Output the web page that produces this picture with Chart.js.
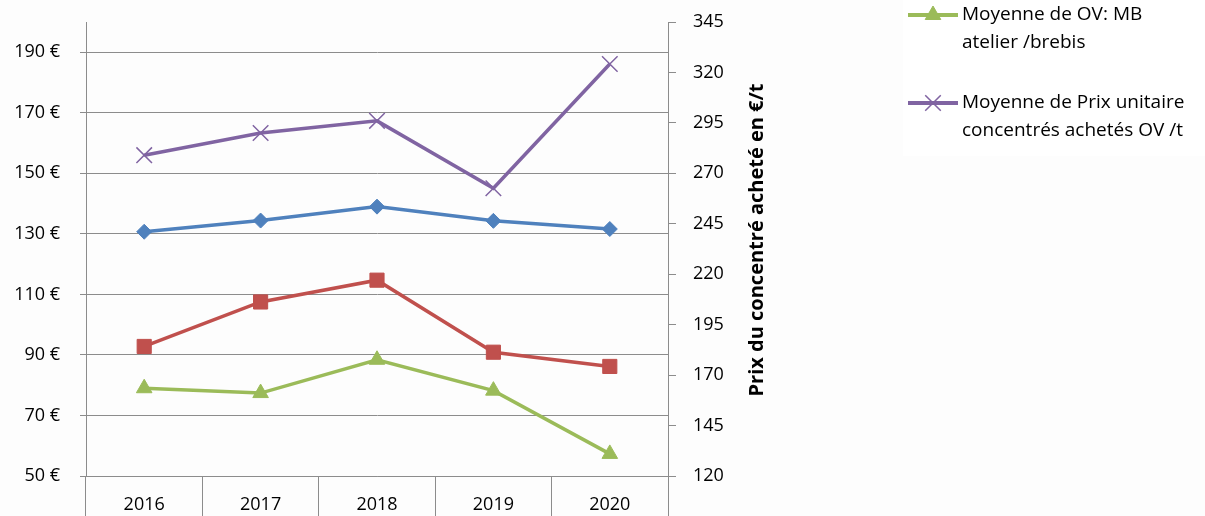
<!DOCTYPE html>
<html>
<head>
<meta charset="utf-8">
<script src="https://cdn.jsdelivr.net/npm/chart.js@4.4.0/dist/chart.umd.min.js"></script>
<style>
  html, body { margin: 0; padding: 0; background: #fdfdfd; }
  #wrap { position: relative; width: 1205px; height: 516px; }
</style>
</head>
<body>
<div id="wrap"><canvas id="myChart" width="1205" height="516"></canvas></div>
<script>
  const annees = ['2016', '2017', '2018', '2019', '2020'];
  const serieBleue = [130.7, 134.4, 139.0, 134.3, 131.6];
  const serieRouge = [92.8, 107.5, 114.7, 90.9, 86.2];
  const mbBrebis = [79.0, 77.4, 88.4, 78.2, 57.3];
  const prixConcentres = [279, 290, 296, 262.6, 324.2];
  const ticksGauche = [50, 70, 90, 110, 130, 150, 170, 190];
  const ticksDroite = [120, 145, 170, 195, 220, 245, 270, 295, 320, 345];
  const legendeLignes = [
    ['Moyenne de OV: MB', 'atelier /brebis'],
    ['Moyenne de Prix unitaire', 'concentrés achetés OV /t']
  ];
  const titreDroite = 'Prix du concentré acheté en €/t';

  const gris = '#8c8c8c';
  const police = '"Open Sans", Lato, sans-serif';

  // titre de l'axe de droite (lu de bas en haut) + légende à droite
  const decor = {
    id: 'decor',
    beforeDraw(chart) {
      const c = chart.ctx;
      c.save();
      c.fillStyle = '#ffffff';
      c.fillRect(903, 0, 302, 156);
      c.restore();
    },
    afterDraw(chart) {
      const c = chart.ctx;
      c.save();
      c.translate(757, 240);
      c.rotate(-Math.PI / 2);
      c.font = 'bold 20px ' + police;
      c.fillStyle = '#000';
      c.textAlign = 'center';
      c.textBaseline = 'middle';
      c.fillText(titreDroite, 0, 0);
      c.restore();

      const items = [2, 3];
      const ys = [15, 103];
      items.forEach((idx, k) => {
        const ds = chart.data.datasets[idx];
        const y = ys[k];
        c.save();
        c.strokeStyle = ds.borderColor;
        c.lineWidth = 4;
        c.beginPath();
        c.moveTo(908, y);
        c.lineTo(958, y);
        c.stroke();
        c.fillStyle = ds.pointBackgroundColor;
        c.strokeStyle = ds.pointBorderColor;
        c.lineWidth = ds.pointBorderWidth;
        Chart.helpers.drawPoint(c, {
          pointStyle: ds.pointStyle,
          radius: ds.pointRadius,
          borderWidth: ds.pointBorderWidth,
          rotation: 0
        }, 933, y);
        c.fillStyle = '#000';
        c.font = '19px ' + police;
        c.textBaseline = 'middle';
        c.textAlign = 'left';
        legendeLignes[k].forEach((txt, i) => c.fillText(txt, 962, y + i * 28));
        c.restore();
      });
    }
  };

  // pas de marge auto au-dessus des axes verticaux
  const sansMarge = s => { s.paddingTop = 0; s.paddingBottom = 0; };

  const ctx = document.getElementById('myChart');

  new Chart(ctx, {
    type: 'line',
    data: {
      labels: annees,
      datasets: [
        {
          label: 'Série 1',
          data: serieBleue,
          yAxisID: 'y',
          borderColor: '#4f81bd',
          borderWidth: 3.5,
          pointStyle: 'rectRot',
          pointRadius: 7.5,
          pointBackgroundColor: '#4f81bd',
          pointBorderColor: '#4f81bd',
          pointBorderWidth: 1
        },
        {
          label: 'Série 2',
          data: serieRouge,
          yAxisID: 'y',
          borderColor: '#c0504d',
          borderWidth: 3.5,
          pointStyle: 'rect',
          pointRadius: 10,
          pointBackgroundColor: '#c0504d',
          pointBorderColor: '#c0504d',
          pointBorderWidth: 1
        },
        {
          label: 'Moyenne de OV: MB atelier /brebis',
          data: mbBrebis,
          yAxisID: 'y',
          borderColor: '#9bbb59',
          borderWidth: 3.5,
          pointStyle: 'triangle',
          pointRadius: 9,
          pointBackgroundColor: '#9bbb59',
          pointBorderColor: '#9bbb59',
          pointBorderWidth: 1
        },
        {
          label: 'Moyenne de Prix unitaire concentrés achetés OV /t',
          data: prixConcentres,
          yAxisID: 'y1',
          borderColor: '#8064a2',
          borderWidth: 3.5,
          pointStyle: 'crossRot',
          pointRadius: 11,
          pointBackgroundColor: '#8064a2',
          pointBorderColor: '#8064a2',
          pointBorderWidth: 1.5
        }
      ]
    },
    options: {
      responsive: false,
      animation: false,
      devicePixelRatio: 1,
      layout: { padding: { left: 0, right: 437, top: 22, bottom: 0 } },
      plugins: {
        legend: { display: false },
        tooltip: { enabled: false }
      },
      scales: {
        x: {
          type: 'category',
          offset: true,
          grid: { offset: true, drawOnChartArea: false, tickLength: 40, color: gris },
          border: { color: gris },
          ticks: { padding: -22, color: '#000', font: { family: police, size: 18 } },
          afterFit(s) { s.height = 40; }
        },
        y: {
          position: 'left',
          min: 50,
          max: 200,
          afterBuildTicks(s) { s.ticks = ticksGauche.map(v => ({ value: v })); },
          grid: { color: gris, tickLength: 6 },
          border: { color: gris },
          ticks: {
            padding: 20,
            color: '#000',
            font: { family: police, size: 18 },
            callback: v => v + ' €'
          },
          afterFit(s) { s.width = 86; sansMarge(s); }
        },
        y1: {
          position: 'right',
          min: 120,
          max: 345,
          afterBuildTicks(s) { s.ticks = ticksDroite.map(v => ({ value: v })); },
          grid: { drawOnChartArea: false, color: gris, tickLength: 8 },
          border: { color: gris },
          ticks: { padding: 17, color: '#000', font: { family: police, size: 18 } },
          afterFit(s) { s.width = 100; sansMarge(s); }
        }
      }
    },
    plugins: [decor]
  });
</script>
</body>
</html>
